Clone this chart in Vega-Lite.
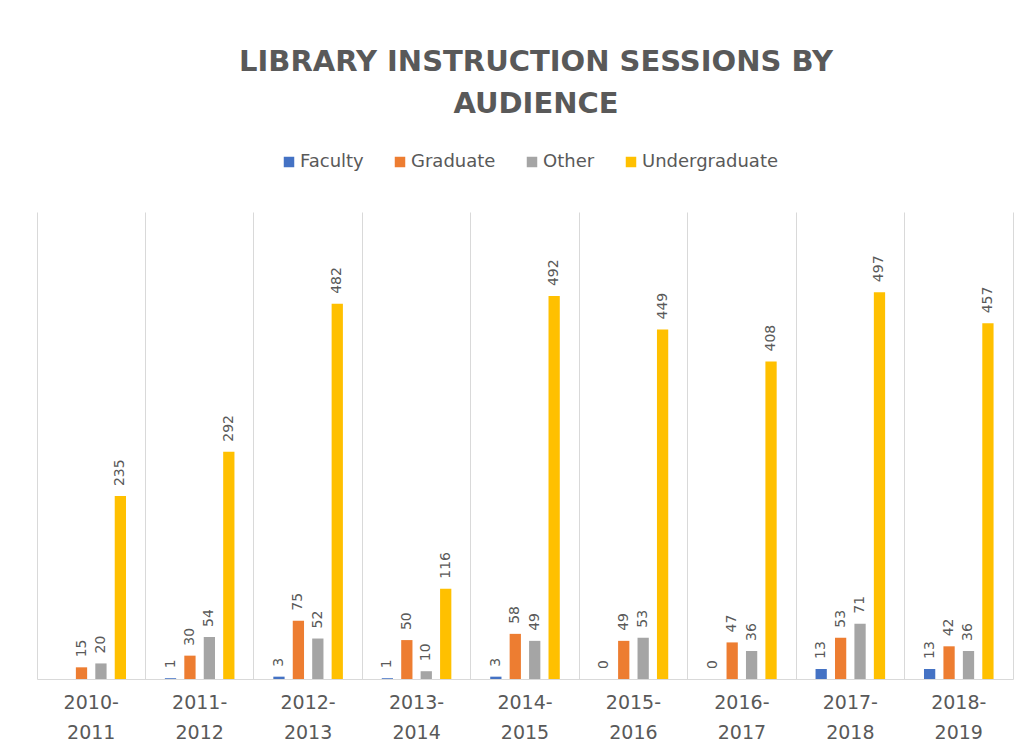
{
  "$schema": "https://vega.github.io/schema/vega-lite/v6.json",
  "width": 976,
  "height": 467,
  "autosize": {"type": "none"},
  "padding": {"left": 37, "top": 212, "right": 14, "bottom": 73},
  "background": "white",
  "title": {
    "text": ["LIBRARY INSTRUCTION SESSIONS BY", "AUDIENCE"],
    "anchor": "middle",
    "dx": 11,
    "offset": 34,
    "fontSize": 29,
    "font": "DejaVu Sans",
    "fontWeight": "bold",
    "color": "#595959",
    "lineHeight": 42
  },
  "data": {
    "values": [
      {"year": "2010-2011", "audience": "Graduate", "sessions": 15},
      {"year": "2010-2011", "audience": "Other", "sessions": 20},
      {"year": "2010-2011", "audience": "Undergraduate", "sessions": 235},
      {"year": "2011-2012", "audience": "Faculty", "sessions": 1},
      {"year": "2011-2012", "audience": "Graduate", "sessions": 30},
      {"year": "2011-2012", "audience": "Other", "sessions": 54},
      {"year": "2011-2012", "audience": "Undergraduate", "sessions": 292},
      {"year": "2012-2013", "audience": "Faculty", "sessions": 3},
      {"year": "2012-2013", "audience": "Graduate", "sessions": 75},
      {"year": "2012-2013", "audience": "Other", "sessions": 52},
      {"year": "2012-2013", "audience": "Undergraduate", "sessions": 482},
      {"year": "2013-2014", "audience": "Faculty", "sessions": 1},
      {"year": "2013-2014", "audience": "Graduate", "sessions": 50},
      {"year": "2013-2014", "audience": "Other", "sessions": 10},
      {"year": "2013-2014", "audience": "Undergraduate", "sessions": 116},
      {"year": "2014-2015", "audience": "Faculty", "sessions": 3},
      {"year": "2014-2015", "audience": "Graduate", "sessions": 58},
      {"year": "2014-2015", "audience": "Other", "sessions": 49},
      {"year": "2014-2015", "audience": "Undergraduate", "sessions": 492},
      {"year": "2015-2016", "audience": "Faculty", "sessions": 0},
      {"year": "2015-2016", "audience": "Graduate", "sessions": 49},
      {"year": "2015-2016", "audience": "Other", "sessions": 53},
      {"year": "2015-2016", "audience": "Undergraduate", "sessions": 449},
      {"year": "2016-2017", "audience": "Faculty", "sessions": 0},
      {"year": "2016-2017", "audience": "Graduate", "sessions": 47},
      {"year": "2016-2017", "audience": "Other", "sessions": 36},
      {"year": "2016-2017", "audience": "Undergraduate", "sessions": 408},
      {"year": "2017-2018", "audience": "Faculty", "sessions": 13},
      {"year": "2017-2018", "audience": "Graduate", "sessions": 53},
      {"year": "2017-2018", "audience": "Other", "sessions": 71},
      {"year": "2017-2018", "audience": "Undergraduate", "sessions": 497},
      {"year": "2018-2019", "audience": "Faculty", "sessions": 13},
      {"year": "2018-2019", "audience": "Graduate", "sessions": 42},
      {"year": "2018-2019", "audience": "Other", "sessions": 36},
      {"year": "2018-2019", "audience": "Undergraduate", "sessions": 457}
    ]
  },
  "encoding": {
    "x": {
      "field": "year",
      "type": "nominal",
      "sort": null,
      "scale": {"paddingInner": 0, "paddingOuter": 0},
      "axis": {
        "title": null,
        "labelAngle": 0,
        "labelExpr": "[slice(datum.label, 0, 5), slice(datum.label, 5)]",
        "labelFont": "DejaVu Sans",
        "labelFontSize": 19,
        "labelColor": "#595959",
        "labelLineHeight": 30,
        "labelPadding": 14,
        "ticks": false,
        "domainColor": "#d9d9d9",
        "domainWidth": 1,
        "grid": true,
        "gridColor": "#d9d9d9",
        "gridWidth": 1,
        "bandPosition": 0
      }
    },
    "xOffset": {
      "field": "audience",
      "type": "nominal",
      "sort": ["Faculty", "Graduate", "Other", "Undergraduate"],
      "scale": {"domain": ["Faculty", "Graduate", "Other", "Undergraduate"], "paddingInner": 0.42, "paddingOuter": 1.065}
    },
    "y": {
      "field": "sessions",
      "type": "quantitative",
      "scale": {"domain": [0, 600], "nice": false},
      "axis": {
        "orient": "right",
        "title": null,
        "labels": false,
        "ticks": false,
        "grid": false,
        "domain": true,
        "domainColor": "#d9d9d9",
        "domainWidth": 1
      }
    }
  },
  "layer": [
    {
      "mark": {"type": "bar"},
      "encoding": {
        "color": {
          "field": "audience",
          "type": "nominal",
          "scale": {
            "domain": ["Faculty", "Graduate", "Other", "Undergraduate"],
            "range": ["#4472C4", "#ED7D31", "#A5A5A5", "#FFC000"]
          },
          "legend": {
            "orient": "none",
            "direction": "horizontal",
            "legendX": 243,
            "legendY": -59,
            "title": null,
            "symbolType": "square",
            "symbolSize": 110,
            "symbolStrokeWidth": 0,
            "labelFont": "DejaVu Sans",
            "labelFontSize": 18,
            "labelColor": "#595959",
            "columnPadding": 27,
            "labelOffset": 2
          }
        }
      }
    },
    {
      "mark": {
        "type": "text",
        "angle": 270,
        "align": "left",
        "baseline": "middle",
        "dx": 10,
        "font": "DejaVu Sans",
        "fontSize": 14,
        "color": "#595959"
      },
      "encoding": {
        "text": {"field": "sessions", "type": "quantitative"}
      }
    }
  ],
  "config": {
    "view": {"stroke": null}
  }
}
